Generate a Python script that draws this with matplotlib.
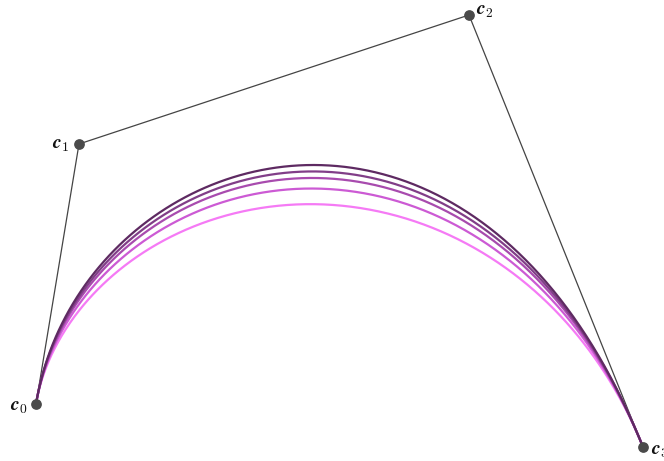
import numpy as np
import matplotlib.pyplot as plt

plt.rcParams['mathtext.fontset'] = 'cm'

# control points of the cubic
ctrl_x = [36, 79, 469, 643]
ctrl_y = [57, 317, 446, 14]
labels = [r'$\boldsymbol{c}_0$', r'$\boldsymbol{c}_1$', r'$\boldsymbol{c}_2$', r'$\boldsymbol{c}_3$']

# inner weights of the rational curves, light to dark
weights = [0.59, 0.72, 0.83, 0.91, 1.0]
colors = ['#f57af5', '#cc5ad4', '#a84bae', '#813e88', '#5e2a62']


def rational_bezier(px, py, w, n=400):
    t = np.linspace(0, 1, n)
    basis = np.array([(1 - t)**3, 3 * t * (1 - t)**2, 3 * t**2 * (1 - t), t**3])
    ws = np.array([1.0, w, w, 1.0])[:, None]
    den = (basis * ws).sum(axis=0)
    x = (basis * ws * np.array(px)[:, None]).sum(axis=0) / den
    y = (basis * ws * np.array(py)[:, None]).sum(axis=0) / den
    return x, y


fig = plt.figure(figsize=(6.64, 4.61), dpi=100)
ax = fig.add_axes([0, 0, 1, 1])
ax.set_xlim(0, 664)
ax.set_ylim(0, 461)
ax.axis('off')

ax.plot(ctrl_x, ctrl_y, color='#444444', lw=0.9, zorder=1)

for w, c in zip(weights, colors):
    x, y = rational_bezier(ctrl_x, ctrl_y, w)
    ax.plot(x, y, color=c, lw=1.6, zorder=2)

ax.scatter(ctrl_x, ctrl_y, s=45, color='#4a4a4a', zorder=3)

offsets = [(-26, -2), (-27, -1), (7, 4), (8, -3)]
for x, y, lab, (dx, dy) in zip(ctrl_x, ctrl_y, labels, offsets):
    ax.text(x + dx, y + dy, lab, fontsize=14, va='center', ha='left', color='#111111')

fig.savefig('out.png', dpi=100)
